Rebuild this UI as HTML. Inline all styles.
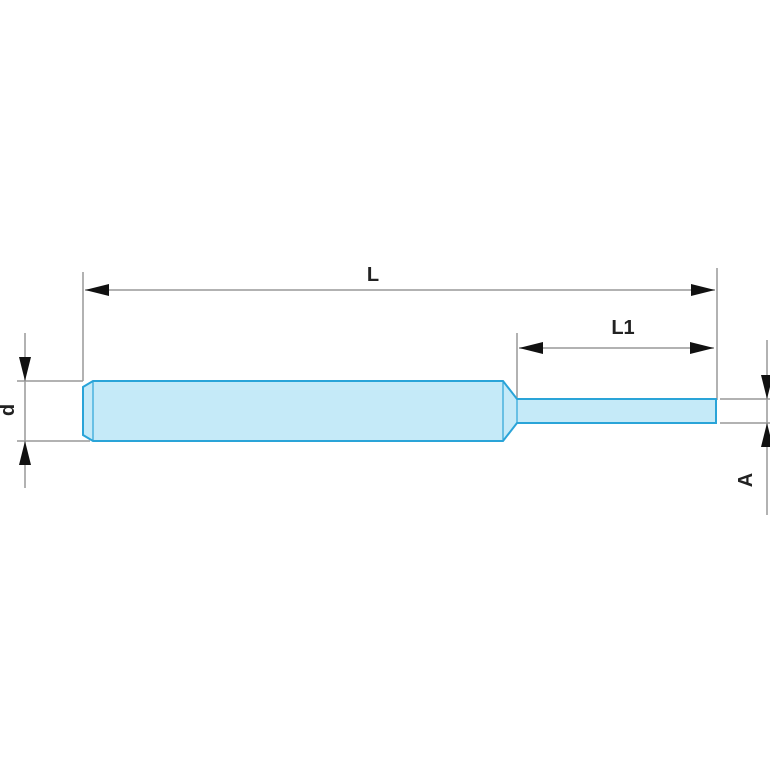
<!DOCTYPE html>
<html><head><style>body{margin:0;background:#fff}</style></head><body>
<svg width="770" height="770" xmlns="http://www.w3.org/2000/svg">
<g stroke="#999" stroke-width="1.5" fill="none">
<line x1="83" y1="272" x2="83" y2="381"/>
<line x1="717" y1="268" x2="717" y2="400"/>
<line x1="517" y1="333" x2="517" y2="399"/>
<line x1="17" y1="381" x2="83" y2="381"/>
<line x1="17" y1="441" x2="90" y2="441"/>
<line x1="25" y1="333" x2="25" y2="488"/>
<line x1="720" y1="399" x2="770" y2="399"/>
<line x1="720" y1="423" x2="770" y2="423"/>
<line x1="767" y1="340" x2="767" y2="515"/>
<line x1="85" y1="290" x2="715" y2="290"/>
<line x1="519" y1="348" x2="714" y2="348"/>
</g>
<g fill="#111">
<path d="M85,290l24,-6v12z"/><path d="M715,290l-24,-6v12z"/>
<path d="M519,348l24,-6v12z"/><path d="M714,348l-24,-6v12z"/>
<path d="M25,381l-6,-24h12z"/><path d="M25,441l-6,24h12z"/>
<path d="M767,399l-6,-24h12z"/><path d="M767,423l-6,24h12z"/>
</g>
<path d="M93,381H503L517,399H716V423H517L503,441H93L83,435V387Z" fill="#c5eaf8" stroke="#2aa4d8" stroke-width="2"/>
<line x1="93" y1="381" x2="93" y2="441" stroke="#2aa4d8" stroke-width="1.2"/>
<line x1="503" y1="381" x2="503" y2="441" stroke="#2aa4d8" stroke-width="1.2"/>
<line x1="517" y1="399" x2="517" y2="423" stroke="#2aa4d8" stroke-width="1.2"/>
<g font-family="Liberation Sans, sans-serif" font-weight="bold" font-size="20" fill="#222">
<text x="373" y="281" text-anchor="middle">L</text>
<text x="623" y="334" text-anchor="middle">L1</text>
<text transform="translate(14,410) rotate(-90)" text-anchor="middle">d</text>
<text transform="translate(752,480) rotate(-90)" text-anchor="middle">A</text>
</g>
</svg>
</body></html>
